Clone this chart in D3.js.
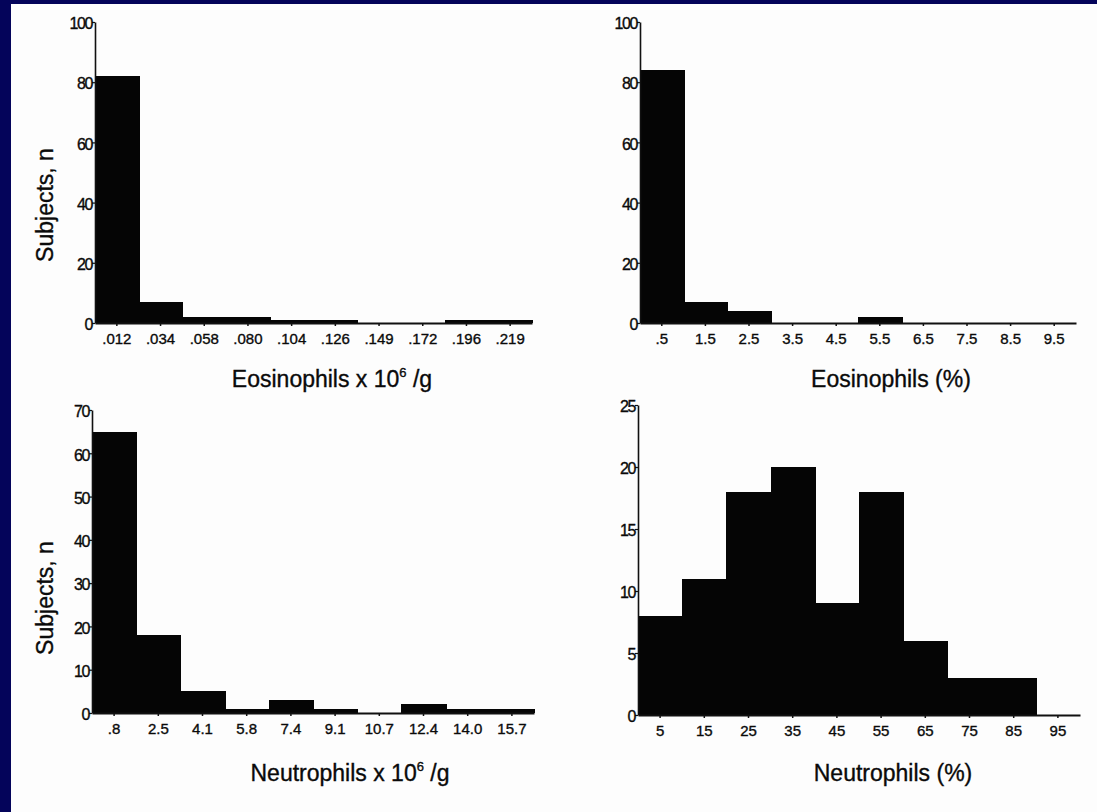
<!DOCTYPE html>
<html>
<head>
<meta charset="utf-8">
<script src="https://cdn.jsdelivr.net/npm/d3@7"></script>
<style>
  html, body { margin: 0; padding: 0; background: #04045a; }
  #chart { display: block; }
  text { font-family: "Liberation Sans", Arial, sans-serif; fill: #0a0a0a; stroke: #0a0a0a; stroke-width: 0.35px; }
</style>
</head>
<body>
<div id="chart"></div>
<script>
// histogram data
var eosAbsLabels = [".012", ".034", ".058", ".080", ".104", ".126", ".149", ".172", ".196", ".219"];
var eosAbsCounts = [82, 7, 2, 2, 1, 1, 0, 0, 1, 1];

var eosPctLabels = [".5", "1.5", "2.5", "3.5", "4.5", "5.5", "6.5", "7.5", "8.5", "9.5"];
var eosPctCounts = [84, 7, 4, 0, 0, 2, 0, 0, 0, 0];

var neuAbsLabels = [".8", "2.5", "4.1", "5.8", "7.4", "9.1", "10.7", "12.4", "14.0", "15.7"];
var neuAbsCounts = [65, 18, 5, 1, 3, 1, 0, 2, 1, 1];

var neuPctLabels = ["5", "15", "25", "35", "45", "55", "65", "75", "85", "95"];
var neuPctCounts = [8, 11, 18, 20, 9, 18, 6, 3, 3, 0];

var eosAbsTicks = [0, 20, 40, 60, 80, 100];
var eosPctTicks = [0, 20, 40, 60, 80, 100];
var neuAbsTicks = [0, 10, 20, 30, 40, 50, 60, 70];
var neuPctTicks = [0, 5, 10, 15, 20, 25];

var width = 1097;
var height = 812;

var svg = d3.select("#chart")
    .append("svg")
    .attr("width", width)
    .attr("height", height);

// white paper inside the dark blue frame
svg.append("rect")
    .attr("x", 11)
    .attr("y", 4)
    .attr("width", width - 11)
    .attr("height", height - 4)
    .attr("fill", "#fdfdfd");

// draw one histogram panel
function drawPanel(p) {
    var g = svg.append("g");

    var x = d3.scaleBand()
        .domain(p.labels)
        .range([p.left, p.right])
        .padding(0);

    var y = d3.scaleLinear()
        .domain([0, p.ticks[p.ticks.length - 1]])
        .range([p.bottom, p.top]);

    // bars (overlap by a pixel so no seams show between neighbours)
    g.selectAll("rect.bar")
        .data(p.counts)
        .enter()
        .append("rect")
        .attr("class", "bar")
        .attr("x", function (d, i) { return x(p.labels[i]); })
        .attr("y", function (d) { return y(d); })
        .attr("width", x.bandwidth() + 1)
        .attr("height", function (d) { return y(0) - y(d); })
        .attr("fill", "#050505")
        .attr("shape-rendering", "crispEdges");

    // y axis
    var yAxis = g.append("g")
        .attr("transform", "translate(" + p.left + ",0)")
        .call(d3.axisLeft(y).tickValues(p.ticks).tickSize(3).tickSizeOuter(0).tickPadding(0));
    yAxis.select(".domain").attr("stroke", "#111").attr("stroke-width", 1.6);
    yAxis.selectAll(".tick line").attr("stroke", "#111").attr("stroke-width", 1.2);
    yAxis.selectAll(".tick text")
        .style("font-size", "16px")
        .style("letter-spacing", "-1.4px")
        .attr("dy", "0.42em");

    // x axis
    var xAxis = g.append("g")
        .attr("transform", "translate(0," + p.bottom + ")")
        .call(d3.axisBottom(x).tickSize(3).tickSizeOuter(0).tickPadding(7));
    xAxis.select(".domain").attr("stroke", "#111").attr("stroke-width", 2.2);
    xAxis.selectAll(".tick line").attr("stroke", "#111").attr("stroke-width", 1.5);
    xAxis.selectAll(".tick text")
        .style("font-size", "15px");

    // x axis title, with optional superscript
    var t = g.append("text")
        .attr("x", p.titleX)
        .attr("y", p.titleY)
        .style("text-anchor", "middle")
        .style("font-size", "23px");
    t.append("tspan").text(p.title);
    if (p.sup) {
        t.append("tspan").text(p.sup).attr("dy", -10).style("font-size", "13px");
        t.append("tspan").text(p.after).attr("dy", 10);
    }

    // y axis title
    if (p.yTitle) {
        g.append("text")
            .attr("transform", "translate(" + p.yTitleX + "," + p.yTitleY + ") rotate(-90)")
            .style("text-anchor", "middle")
            .style("font-size", "23px")
            .text(p.yTitle);
    }
}

drawPanel({
    labels: eosAbsLabels, counts: eosAbsCounts, ticks: eosAbsTicks,
    left: 95, right: 532, top: 22, bottom: 323,
    title: "Eosinophils x 10", sup: "6", after: " /g", titleX: 332, titleY: 387,
    yTitle: "Subjects, n", yTitleX: 53, yTitleY: 205
});

drawPanel({
    labels: eosPctLabels, counts: eosPctCounts, ticks: eosPctTicks,
    left: 640, right: 1076, top: 22, bottom: 323,
    title: "Eosinophils (%)", titleX: 891, titleY: 387
});

drawPanel({
    labels: neuAbsLabels, counts: neuAbsCounts, ticks: neuAbsTicks,
    left: 92, right: 534, top: 410, bottom: 713,
    title: "Neutrophils x 10", sup: "6", after: " /g", titleX: 350, titleY: 781,
    yTitle: "Subjects, n", yTitleX: 53, yTitleY: 598
});

drawPanel({
    labels: neuPctLabels, counts: neuPctCounts, ticks: neuPctTicks,
    left: 638, right: 1080, top: 405, bottom: 715,
    title: "Neutrophils (%)", titleX: 893, titleY: 781
});
</script>
</body>
</html>
